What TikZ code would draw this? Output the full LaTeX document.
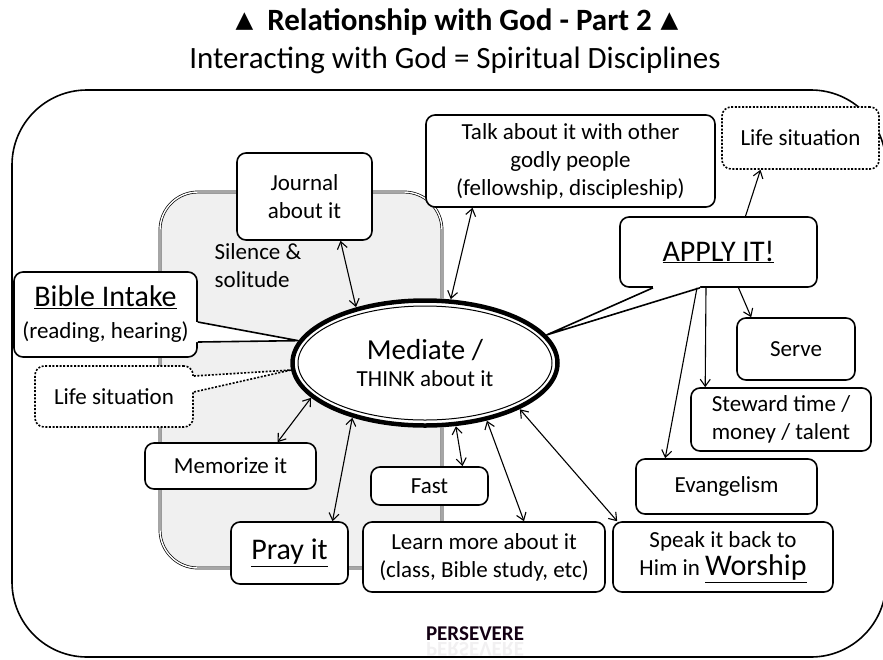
\documentclass[tikz,border=0pt]{standalone}
\usepackage{fontspec}
\setmainfont{Carlito}
\newfontfamily\symfont{DejaVu Sans}
\usetikzlibrary{shapes, arrows.meta, calc, positioning}

\newcommand{\boxfont}{\fontsize{23}{28}\selectfont}
\newcommand{\bigfont}{\fontsize{30}{32}\selectfont}
\newcommand{\tri}{\raisebox{3pt}{\symfont\fontsize{23}{24}\selectfont ▲}}

\begin{document}
\begin{tikzpicture}[x=1pt, y=-1pt, line join=round, >={Straight Barb[length=7pt, width=10pt]}]
	\tikzstyle{box} = [draw, line width=1.6pt, rounded corners=9pt, fill=white, align=center, inner sep=0pt, font=\boxfont]
	\tikzstyle{dotbox} = [box, dash pattern=on 2pt off 1.6pt]
	\tikzstyle{link} = [line width=1.1pt]
	\tikzstyle{wedge} = [line width=1.6pt]

	\useasboundingbox (0,0) rectangle (883,659);

	% heading
	\node (title) at (457,22) {\fontsize{31}{32}\selectfont\bfseries\tri\hspace{14pt}Relationship with God - Part 2\hspace{9pt}\tri};
	\node[font=\fontsize{31}{32}\selectfont] (subtitle) at (455,60) {Interacting with God = Spiritual Disciplines};

	% outer frame and the grey area
	\draw[line width=1.6pt, rounded corners=75pt] (12,90) rectangle (886,657);
	\draw[double, double distance=1.4pt, line width=0.7pt, fill=black!6, rounded corners=38pt] (160,192) rectangle (442,568);
	\node[font=\boxfont, align=left] (silence) at (258,266) {Silence \&\\solitude};

	% centre
	\node[ellipse, fill=white, minimum width=270pt, minimum height=130pt, inner sep=0pt, outer sep=0pt, align=center] (med) at (425,363)
		{{\fontsize{29}{30}\selectfont Mediate /}\\[9pt]{\boxfont THINK about it}};

	% boxes
	\node[box, minimum width=135pt, minimum height=87pt] (journal) at (304.5,196.5) {Journal\\about it};
	\node[box, minimum width=289pt, minimum height=92pt] (talk) at (570.5,161) {Talk about it with other\\godly people\\(fellowship, discipleship)};
	\node[dotbox, minimum width=157pt, minimum height=62pt] (lifetop) at (800.5,138) {Life situation};
	\node[box, font=\bigfont, minimum width=197pt, minimum height=70pt] (apply) at (718.5,252) {\underline{APPLY IT!}};
	\node[box, font=\bigfont, minimum width=183pt, minimum height=85pt] (bible) at (105.5,314.5) {\underline{Bible Intake}\\{\boxfont (reading, hearing)}};
	\node[dotbox, minimum width=158pt, minimum height=61pt] (lifeleft) at (114,396.5) {Life situation};
	\node[box, minimum width=171pt, minimum height=46pt] (memo) at (230.5,466) {Memorize it};
	\node[box, font=\bigfont, minimum width=117pt, minimum height=62pt] (pray) at (289.5,553) {\underline{Pray it}};
	\node[box, minimum width=117pt, minimum height=38pt] (fast) at (429.5,486) {Fast};
	\node[box, minimum width=242pt, minimum height=70pt] (learn) at (484,557) {Learn more about it\\(class, Bible study, etc)};
	\node[box, minimum width=220pt, minimum height=70pt] (speak) at (723,557) {Speak it back to\\Him in {\bigfont\underline{Worship}}};
	\node[box, minimum width=181pt, minimum height=55pt] (evang) at (726.5,486.5) {Evangelism};
	\node[box, minimum width=180pt, minimum height=63pt] (steward) at (781,419.5) {Steward time /\\money / talent};
	\node[box, minimum width=118pt, minimum height=62pt] (serve) at (796,349) {Serve};

	% callout wedges
	\fill[white] ([shift={(-6pt,-7.5pt)}]bible.east) -- ([yshift=-7.5pt]bible.east) -- (med.170) -- ([yshift=-27.5pt]bible.east) -- ([shift={(-6pt,-27.5pt)}]bible.east) -- cycle;
	\draw[wedge] ([yshift=-7.5pt]bible.east) -- (med.170) -- ([yshift=-27.5pt]bible.east);
	\fill[white] ([shift={(-6pt,20.5pt)}]lifeleft.east) -- ([yshift=20.5pt]lifeleft.east) -- (med.183) -- ([yshift=4.5pt]lifeleft.east) -- ([shift={(-6pt,4.5pt)}]lifeleft.east) -- cycle;
	\draw[wedge, dash pattern=on 2pt off 1.6pt] ([yshift=20.5pt]lifeleft.east) -- (med.183) -- ([yshift=4.5pt]lifeleft.east);
	\fill[white] ([shift={(-65.5pt,6pt)}]apply.south) -- ([xshift=-65.5pt]apply.south) -- (med.13) -- ([xshift=-18.5pt]apply.south) -- ([shift={(-18.5pt,6pt)}]apply.south) -- cycle;
	\draw[wedge] ([xshift=-65.5pt]apply.south) -- (med.13) -- ([xshift=-18.5pt]apply.south);

	% ring round the centre
	\draw[line width=4.5pt] (med.center) ellipse (132.5pt and 62.5pt);
	\draw[line width=1pt] (med.center) ellipse (127pt and 57pt);

	% links to the centre
	\draw[link, <->] ([xshift=36pt]journal.south) -- (med.141);
	\draw[link, <->] ([xshift=-98pt]talk.south) -- (med.68);
	\draw[link, <->] ([xshift=47pt]memo.north) -- (med.197);
	\draw[link, <->] ([xshift=43pt]pray.north) -- (med.217);
	\draw[link, <->] ([xshift=33pt]fast.north) -- (med.296);
	\draw[link, <->] ([xshift=40pt]learn.north) -- (med.317);
	\draw[link, <->] ([xshift=5pt]speak.north west) -- (med.334);

	% out of APPLY IT!
	\draw[link, ->] ([xshift=27pt]apply.north) -- ([xshift=-40pt]lifetop.south);
	\draw[link, ->] ([xshift=20pt]apply.south) -- ([xshift=15pt]serve.north west);
	\draw[link, ->] ([xshift=-12.5pt]apply.south) -- ([xshift=15pt]steward.north west);
	\draw[link, ->] ([xshift=-21.5pt]apply.south) -- ([xshift=30pt]evang.north west);

	% footer
	\node[font=\fontsize{21}{24}\selectfont\bfseries, text=black!85!violet] (persevere) at (475,634) {PERSEVERE};
	\node[font=\fontsize{21}{24}\selectfont\bfseries, text=black!85!violet, yscale=-1, transform shape, opacity=0.06] (persevereglow) at (475,649) {PERSEVERE};
\end{tikzpicture}
\end{document}
